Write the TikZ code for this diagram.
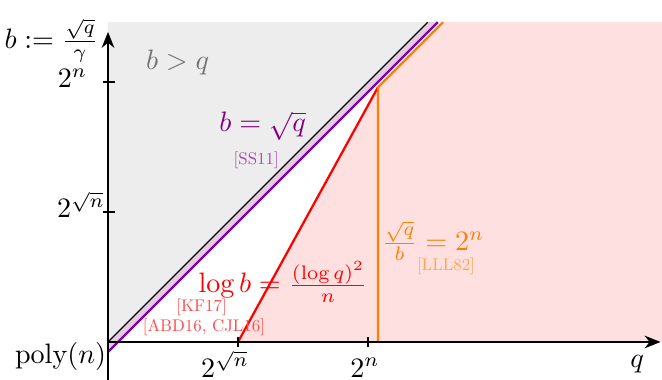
\documentclass[tikz,border=0pt]{standalone}
\usepackage{amsmath,amssymb}
\usepackage{fontspec}
\newfontfamily\citefont{lmroman10-regular}[Extension=.otf]
\usepackage{tikz}
\usetikzlibrary{arrows.meta,positioning}
\definecolor{lineviolet}{RGB}{130,0,170}

\begin{document}
\begin{tikzpicture}[
  x=1.626cm, y=1.626cm,
  axis/.style={-{Stealth[length=2mm,width=1.6mm]}, black},
  axtick/.style={semithick, black},
  bound/.style={thick, #1},
  region/.style={font=\normalsize, text=#1},
  cite/.style={font=\citefont\fontsize{6}{7}\selectfont, text=#1!70}
]
  \useasboundingbox (-0.831,-0.285) rectangle (4.262,2.631);

  % key points
  \coordinate (O) at (0,0);
  \coordinate (rs) at (1,0);
  \coordinate (kink) at (2.077,1.96);
  \coordinate (kfoot) at (2.077,0);

  % regions
  \fill[black!7] (O) -- (0,2.46) -- (2.46,2.46) -- cycle;
  \fill[red!12] (rs) -- (kink) -- (2.577,2.46) -- (4.262,2.46) -- (4.262,0) -- cycle;
  \fill[violet!20] (O) -- (2.46,2.46) -- (2.537,2.46) -- (0,-0.077) -- cycle;

  % bounds
  \draw (O) -- (2.46,2.46);
  \draw[bound=lineviolet] (0,-0.077) -- (2.537,2.46);
  \draw[bound=red] (rs) -- (kink);
  \draw[bound=orange] (kfoot) -- (kink) -- (2.577,2.46);

  % axes
  \draw[axis] (0,-0.3) -- (0,2.385);
  \draw[axis] (O) -- (4.25,0);
  \foreach \t in {1,2} {
    \draw[axtick] (-0.035,\t) -- (0.055,\t);
    \draw[axtick] (\t,-0.038) -- (\t,0.038);
  }

  % axis labels
  \node[left] (blab) at (0,2.32) {$b := \frac{\sqrt{q}}{\gamma}$};
  \node[anchor=base] (ytwon) at (-0.273,1.96) {$2^n$};
  \node[anchor=base] (ytwosq) at (-0.208,0.954) {$2^{\sqrt{n}}$};
  \node[anchor=base] (poly) at (-0.365,-0.162) {$\mathrm{poly}(n)$};
  \node[anchor=base] (xtwosq) at (0.9,-0.27) {$2^{\sqrt{n}}$};
  \node[anchor=base] (xtwon) at (1.977,-0.27) {$2^n$};
  \node[anchor=base] (qlab) at (4.07,-0.2) {$q$};

  % region labels
  \node[region=black!55] (bq) at (0.535,2.15) {$b > q$};
  \node[region=violet] (ss) at (1.19,1.66) {$b = \sqrt{q}$};
  \node[cite=violet] (ssref) at (1.14,1.4) {[SS11]};
  \node[region=red] (kf) at (1.346,0.46) {$\log b = \frac{(\log q)^2}{n}$};
  \node[cite=red] (kfref) at (0.72,0.27) {[KF17]};
  \node[cite=red] (abdref) at (0.738,0.115) {[ABD16, CJL16]};
  \node[region=orange] (lll) at (2.5,0.777) {$\frac{\sqrt{q}}{b} = 2^n$};
  \node[cite=orange] (lllref) at (2.6,0.585) {[LLL82]};
\end{tikzpicture}
\end{document}
